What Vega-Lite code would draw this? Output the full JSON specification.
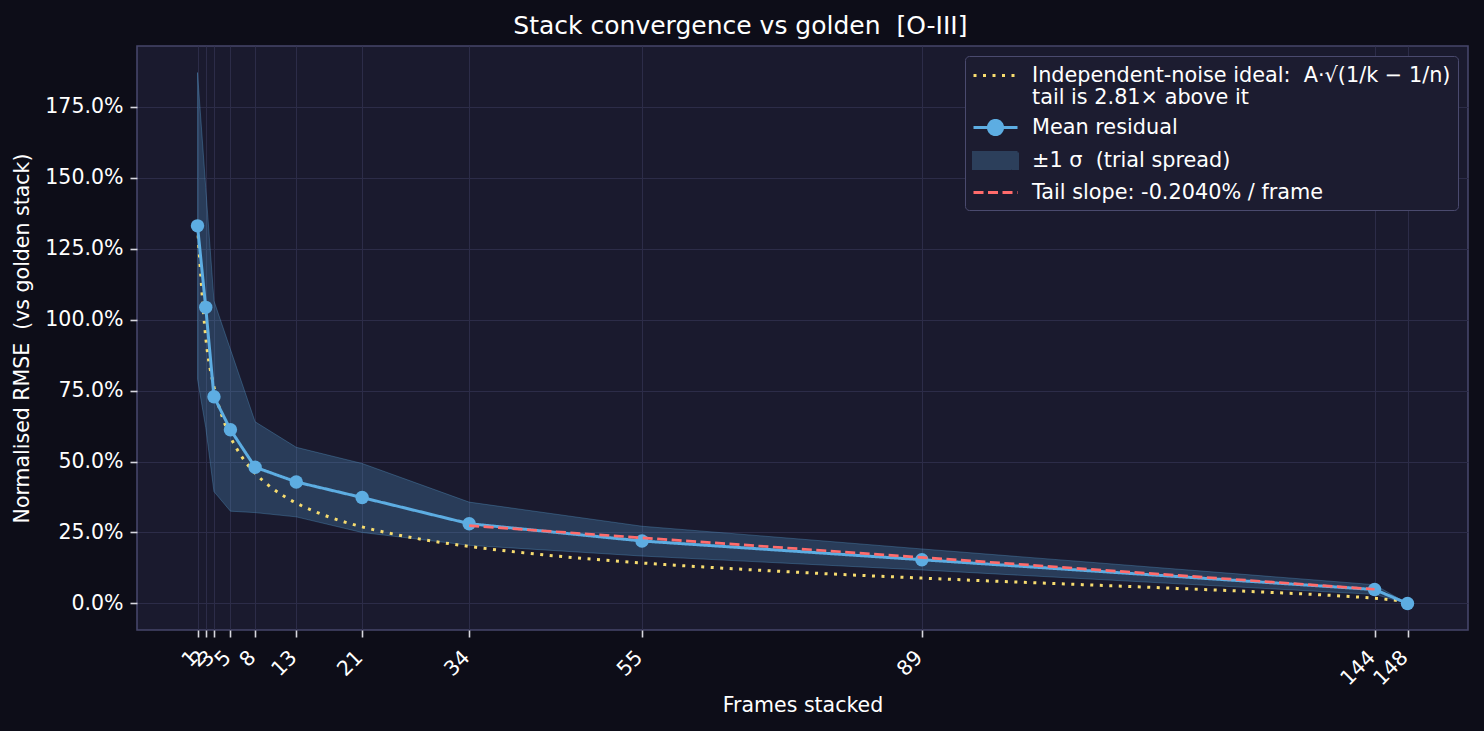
{
  "$schema": "https://vega.github.io/schema/vega-lite/v6.json",
  "autosize": {"type": "none"},
  "width": 1331,
  "height": 584,
  "padding": {"left": 137, "top": 46, "right": 16, "bottom": 101},
  "background": "#0d0d18",
  "title": {
    "text": "Stack convergence vs golden \u00a0[O-III]",
    "fontSize": 25,
    "font": "DejaVu Sans",
    "fontWeight": "normal",
    "color": "#ffffff",
    "anchor": "middle",
    "frame": "bounds",
    "offset": 7
  },
  "config": {
    "font": "DejaVu Sans",
    "view": {"fill": "#1a1a2e", "stroke": "#45456a", "strokeWidth": 1.6},
    "axis": {
      "domain": false,
      "grid": true,
      "gridColor": "#2c2c48",
      "gridWidth": 1,
      "tickColor": "#d8d8e0",
      "tickSize": 7,
      "tickWidth": 1.6,
      "labelColor": "#ffffff",
      "labelFontSize": 20.5,
      "titleColor": "#ffffff",
      "titleFontSize": 20.5,
      "titleFontWeight": "normal"
    },
    "legend": {
      "orient": "top-right",
      "offset": 10,
      "padding": 7,
      "fillColor": "#1c1c30",
      "strokeColor": "#4a4a6e",
      "cornerRadius": 4,
      "labelColor": "#ffffff",
      "labelFontSize": 20.8,
      "labelFont": "DejaVu Sans",
      "labelLimit": 600,
      "symbolSize": 484,
      "symbolOffset": 11,
      "symbolStrokeWidth": 3,
      "symbolOpacity": 1,
      "labelOffset": 24,
      "rowPadding": 5
    }
  },
  "datasets": {
    "main": [
      {"k": 1, "mean": 133.0, "lo": 79.0, "hi": 187.0},
      {"k": 2, "mean": 104.3, "lo": 62.0, "hi": 146.5},
      {"k": 3, "mean": 72.8, "lo": 39.4, "hi": 106.6},
      {"k": 5, "mean": 61.2, "lo": 32.5, "hi": 89.5},
      {"k": 8, "mean": 48.0, "lo": 32.0, "hi": 64.0},
      {"k": 13, "mean": 42.8, "lo": 30.5, "hi": 55.0},
      {"k": 21, "mean": 37.3, "lo": 25.0, "hi": 49.3},
      {"k": 34, "mean": 28.1, "lo": 20.5, "hi": 35.7},
      {"k": 55, "mean": 22.0, "lo": 16.7, "hi": 27.2},
      {"k": 89, "mean": 15.4, "lo": 11.8, "hi": 19.2},
      {"k": 144, "mean": 4.9, "lo": 3.2, "hi": 6.6},
      {"k": 148, "mean": 0.0, "lo": 0.0, "hi": 0.0}
    ],
    "ideal": [
      {"k": 1, "v": 133.0}, {"k": 2, "v": 93.72}, {"k": 3, "v": 76.26},
      {"k": 4, "v": 65.82}, {"k": 5, "v": 58.66}, {"k": 6, "v": 53.37},
      {"k": 7, "v": 49.23}, {"k": 8, "v": 45.89}, {"k": 10, "v": 40.75},
      {"k": 12, "v": 36.93}, {"k": 14, "v": 33.94}, {"k": 17, "v": 30.45},
      {"k": 21, "v": 26.98}, {"k": 25, "v": 24.33}, {"k": 30, "v": 21.76},
      {"k": 34, "v": 20.09}, {"k": 40, "v": 18.03}, {"k": 47, "v": 16.08},
      {"k": 55, "v": 14.26}, {"k": 65, "v": 12.40}, {"k": 75, "v": 10.82},
      {"k": 89, "v": 8.93}, {"k": 100, "v": 7.60}, {"k": 110, "v": 6.45},
      {"k": 120, "v": 5.30}, {"k": 130, "v": 4.08}, {"k": 140, "v": 2.62},
      {"k": 144, "v": 1.83}, {"k": 146, "v": 1.28}, {"k": 147, "v": 0.90},
      {"k": 148, "v": 0.0}
    ],
    "tail": [
      {"k": 34, "v": 27.4},
      {"k": 144, "v": 5.0}
    ]
  },
  "layer": [
    {
      "data": {"name": "main"},
      "mark": {"type": "area", "fill": "#5dade2", "fillOpacity": 0.24, "stroke": "#5dade2", "strokeOpacity": 0.3, "strokeWidth": 1},
      "encoding": {
        "x": {
          "field": "k",
          "type": "quantitative",
          "title": "Frames stacked",
          "scale": {"domain": [-6.35, 155.35], "nice": false, "zero": false},
          "axis": {
            "values": [1, 2, 3, 5, 8, 13, 21, 34, 55, 89, 144, 148],
            "labelAngle": -45,
            "labelAlign": "right",
            "labelBaseline": "top",
            "labelPadding": 10,
            "labelOffset": -10,
            "labelOverlap": false,
            "titlePadding": 6
          }
        },
        "y": {
          "field": "lo",
          "type": "quantitative",
          "title": "Normalised RMSE \u00a0(vs golden stack)",
          "scale": {"domain": [-9.35, 196.35], "nice": false, "zero": false},
          "axis": {
            "values": [0, 25, 50, 75, 100, 125, 150, 175],
            "labelExpr": "format(datum.value, '.1f') + '%'",
            "labelPadding": 7,
            "titlePadding": 12
          }
        },
        "y2": {"field": "hi"}
      }
    },
    {
      "data": {"name": "ideal"},
      "mark": {"type": "line", "strokeWidth": 3, "interpolate": "monotone"},
      "encoding": {
        "x": {"field": "k", "type": "quantitative"},
        "y": {"field": "v", "type": "quantitative"},
        "stroke": {
          "datum": "Independent-noise ideal: \u00a0A·√(1/k − 1/n)|tail is 2.81× above it",
          "type": "nominal",
          "scale": {
            "domain": [
              "Independent-noise ideal: \u00a0A·√(1/k − 1/n)|tail is 2.81× above it",
              "Mean residual",
              "±1 σ \u00a0(trial spread)",
              "Tail slope: -0.2040% / frame"
            ],
            "range": ["#f7dc6f", "#5dade2", "#2c3f5b", "#ff6b6b"]
          },
          "legend": {"title": null, "labelExpr": "split(datum.label, '|')"}
        },
        "strokeDash": {
          "datum": "Independent-noise ideal: \u00a0A·√(1/k − 1/n)|tail is 2.81× above it",
          "type": "nominal",
          "scale": {
            "domain": [
              "Independent-noise ideal: \u00a0A·√(1/k − 1/n)|tail is 2.81× above it",
              "Mean residual",
              "±1 σ \u00a0(trial spread)",
              "Tail slope: -0.2040% / frame"
            ],
            "range": [[3, 6.5], [1, 0], [1, 0], [10, 4.5]]
          },
          "legend": {"title": null, "labelExpr": "split(datum.label, '|')"}
        }
      }
    },
    {
      "data": {"name": "main"},
      "mark": {"type": "line", "strokeWidth": 3},
      "encoding": {
        "x": {"field": "k", "type": "quantitative"},
        "y": {"field": "mean", "type": "quantitative"},
        "stroke": {"datum": "Mean residual", "type": "nominal", "legend": {"title": null, "labelExpr": "split(datum.label, '|')"}},
        "strokeDash": {"datum": "Mean residual", "type": "nominal", "legend": {"title": null, "labelExpr": "split(datum.label, '|')"}}
      }
    },
    {
      "data": {"name": "main"},
      "mark": {"type": "point", "filled": true, "opacity": 1, "size": 180},
      "encoding": {
        "x": {"field": "k", "type": "quantitative"},
        "y": {"field": "mean", "type": "quantitative"},
        "fill": {
          "datum": "Mean residual",
          "type": "nominal",
          "scale": {
            "domain": [
              "Independent-noise ideal: \u00a0A·√(1/k − 1/n)|tail is 2.81× above it",
              "Mean residual",
              "±1 σ \u00a0(trial spread)",
              "Tail slope: -0.2040% / frame"
            ],
            "range": ["transparent", "#5dade2", "#2c3f5b", "transparent"]
          },
          "legend": {"title": null, "labelExpr": "split(datum.label, '|')"}
        }
      }
    },
    {
      "data": {"name": "tail"},
      "mark": {"type": "line", "strokeWidth": 2.7},
      "encoding": {
        "x": {"field": "k", "type": "quantitative"},
        "y": {"field": "v", "type": "quantitative"},
        "stroke": {"datum": "Tail slope: -0.2040% / frame", "type": "nominal", "legend": {"title": null, "labelExpr": "split(datum.label, '|')"}},
        "strokeDash": {"datum": "Tail slope: -0.2040% / frame", "type": "nominal", "legend": {"title": null, "labelExpr": "split(datum.label, '|')"}}
      }
    },
    {
      "data": {"name": "tail"},
      "mark": {"type": "point", "opacity": 0},
      "encoding": {
        "x": {"field": "k", "type": "quantitative"},
        "y": {"field": "v", "type": "quantitative"},
        "shape": {
          "datum": "Tail slope: -0.2040% / frame",
          "type": "nominal",
          "scale": {
            "domain": [
              "Independent-noise ideal: \u00a0A·√(1/k − 1/n)|tail is 2.81× above it",
              "Mean residual",
              "±1 σ \u00a0(trial spread)",
              "Tail slope: -0.2040% / frame"
            ],
            "range": [
              "M-2,0H2",
              "M-2,0H2M-0.64,0A0.64,0.64 0 1,0 0.64,0A0.64,0.64 0 1,0 -0.64,0",
              "M-2,-0.72H2V0.72H-2Z",
              "M-2,0H2"
            ]
          },
          "legend": {
            "title": null,
            "labelExpr": "split(datum.label, '|')",
            "encode": {"labels": {"lineHeight": {"value": 23}}}
          }
        }
      }
    }
  ]
}
